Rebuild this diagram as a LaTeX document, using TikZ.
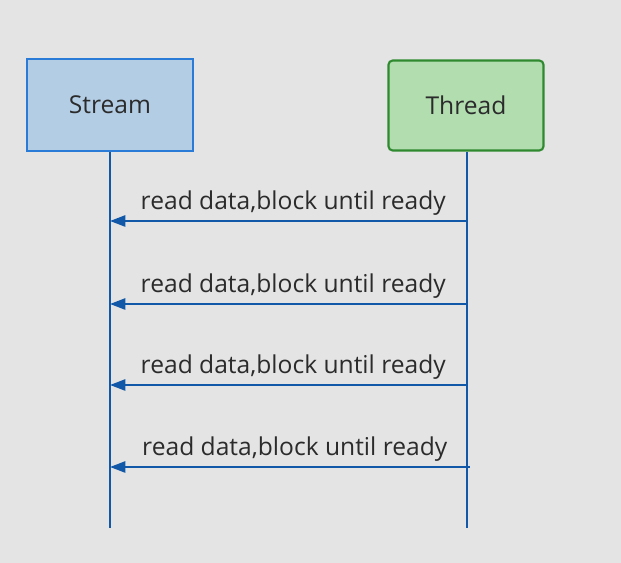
\documentclass[tikz,border=0pt]{standalone}
\usepackage{fontspec}
\setmainfont{Open Sans}
\usetikzlibrary{arrows.meta, calc}
\definecolor{bgGray}{HTML}{E4E4E4}
\definecolor{lineBlue}{HTML}{1258A8}
\definecolor{streamFill}{HTML}{B3CDE5}
\definecolor{streamDraw}{HTML}{2A7AD8}
\definecolor{threadFill}{HTML}{B1DDAF}
\definecolor{threadDraw}{HTML}{2F8A2F}
\definecolor{textGray}{HTML}{2B2B2B}

\begin{document}
\begin{tikzpicture}[
	x=0.025cm, y=-0.025cm,
	box/.style={draw, line width=1.5pt, text=textGray, font=\fontsize{17.5}{21}\selectfont},
	streamBox/.style={box, fill=streamFill, draw=streamDraw, minimum width=4.15cm, minimum height=2.3cm},
	threadBox/.style={box, fill=threadFill, draw=threadDraw, rounded corners=3pt, minimum width=3.875cm, minimum height=2.25cm},
	life/.style={lineBlue, line width=1.5pt},
	msg/.style={lineBlue, line width=1.5pt, -{Triangle[length=11pt, width=8pt]}},
	msgText/.style={text=textGray, font=\fontsize{17.5}{21}\selectfont, inner sep=2pt}
	]
	
	% background
	\fill[bgGray] (0,0) rectangle (621,563);
	\useasboundingbox (0,0) rectangle (621,563);
	
	% participants
	\node[streamBox] (stream) at (110,105) {Stream};
	\node[threadBox] (thread) at (466,105.5) {Thread};
	
	% lifelines
	\coordinate (S) at (110,528);
	\coordinate (T) at (467,528);
	\draw[life] (stream) -- (S);
	\draw[life] (thread.south -| T) -- (T);
	
	% messages
	\foreach \i/\x/\y in {1/467/221, 2/467/304, 3/467/385, 4/470/467} {
		\coordinate (t\i) at (\x,\y);
		\coordinate (s\i) at (110,\y);
		\draw[msg] (t\i) -- (s\i) node[msgText, midway, above, xshift=0.12cm, yshift=1.5pt] {read data,block until ready};
	}
\end{tikzpicture}
\end{document}
